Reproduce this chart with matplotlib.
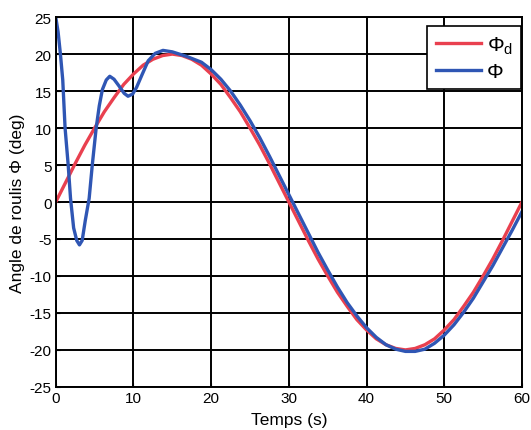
import numpy as np
import matplotlib.pyplot as plt

plt.rcParams['font.family'] = ['Liberation Sans', 'DejaVu Sans']
plt.rcParams['axes.unicode_minus'] = False
plt.rcParams['mathtext.fontset'] = 'custom'
plt.rcParams['mathtext.rm'] = 'Liberation Sans'

# consigne (red)
t_ref = [0, 1.25, 2.5, 3.75, 5, 6.25, 7.5, 8.75, 10, 11.25, 12.5, 13.75, 15,
         16.25, 17.5, 18.75, 20, 21.25, 22.5, 23.75, 25, 26.25, 27.5, 28.75, 30,
         31.25, 32.5, 33.75, 35, 36.25, 37.5, 38.75, 40, 41.25, 42.5, 43.75, 45,
         46.25, 47.5, 48.75, 50, 51.25, 52.5, 53.75, 55, 56.25, 57.5, 58.75, 60]
phi_ref = [0, 2.6, 5.2, 7.7, 10, 12.2, 14.1, 15.9, 17.3, 18.5, 19.3, 19.8, 20,
           19.8, 19.3, 18.5, 17.3, 15.9, 14.1, 12.2, 10, 7.7, 5.2, 2.6, 0,
           -2.6, -5.2, -7.7, -10, -12.2, -14.1, -15.9, -17.3, -18.5, -19.3, -19.8, -20,
           -19.8, -19.3, -18.5, -17.3, -15.9, -14.1, -12.2, -10, -7.7, -5.2, -2.6, 0]

# réponse (blue)
t_mes = [0, 0.3, 0.6, 0.9, 1.2, 1.6, 1.9, 2.3, 2.7, 3.05, 3.4, 3.8, 4.3, 4.7,
         5.2, 5.6, 6.0, 6.5, 6.95, 7.5, 8.2, 8.8, 9.3, 9.9, 10.4, 11.1, 11.9,
         12.8, 13.8, 15, 16.8, 18.75, 20, 21.25, 22.5, 23.75, 25, 26.25, 27.5,
         28.75, 30, 31.25, 32.5, 33.75, 35, 36.25, 37.5, 38.75, 40, 41.25, 42.5,
         43.75, 45, 46.25, 47.5, 48.75, 50, 51.25, 52.5, 53.75, 55, 56.25, 57.5,
         58.75, 60]
phi_mes = [25, 23.0, 20.0, 16.5, 10.0, 5.0, 0.5, -3.5, -5.2, -5.8, -5.2, -2.5, 0.5, 5.0,
           10.0, 13.0, 15.2, 16.5, 17.0, 16.6, 15.6, 14.7, 14.3, 14.6, 15.5, 17.2, 19.1,
           20.1, 20.5, 20.3, 19.7, 18.9, 17.9, 16.6, 15.0, 13.1, 11.0, 8.7, 6.2,
           3.6, 1.0, -1.6, -4.2, -6.8, -9.2, -11.5, -13.6, -15.4, -17.0, -18.3, -19.3,
           -19.9, -20.2, -20.2, -19.9, -19.1, -18.0, -16.6, -14.9, -13.0, -10.8, -8.6, -6.2,
           -3.8, -1.3]

fig = plt.figure(figsize=(5.31, 4.31), dpi=100)
ax = fig.add_axes([0.105, 0.1, 0.878, 0.858])

ax.plot(t_ref, phi_ref, color='#e9404f', lw=2.4, label='Φ$_\\mathrm{d}$')
ax.plot(t_mes, phi_mes, color='#2f56b4', lw=2.4, label='Φ')

ax.set_xlim(0, 60)
ax.set_ylim(-25, 25)
ax.set_xticks(np.arange(0, 61, 10))
ax.set_yticks(np.arange(-25, 26, 5))
ax.grid(True, color='black', lw=1.4, ls='-')
ax.set_axisbelow(True)
ax.tick_params(direction='in', length=3, labelsize=11, pad=3)
for s in ax.spines.values():
    s.set_linewidth(1.4)

ax.set_xlabel('Temps (s)', fontsize=12.5, labelpad=5)
ax.set_ylabel('Angle de roulis Φ (deg)', fontsize=12.5, labelpad=3)

leg = ax.legend(loc='upper right', bbox_to_anchor=(0.998, 0.976), fontsize=15,
                fancybox=False, framealpha=1, edgecolor='black', handlelength=2.2,
                handletextpad=0.25, borderpad=0.4, labelspacing=0.3,
                borderaxespad=0)
leg.get_frame().set_linewidth(1.2)

fig.savefig('out.png', dpi=100)
